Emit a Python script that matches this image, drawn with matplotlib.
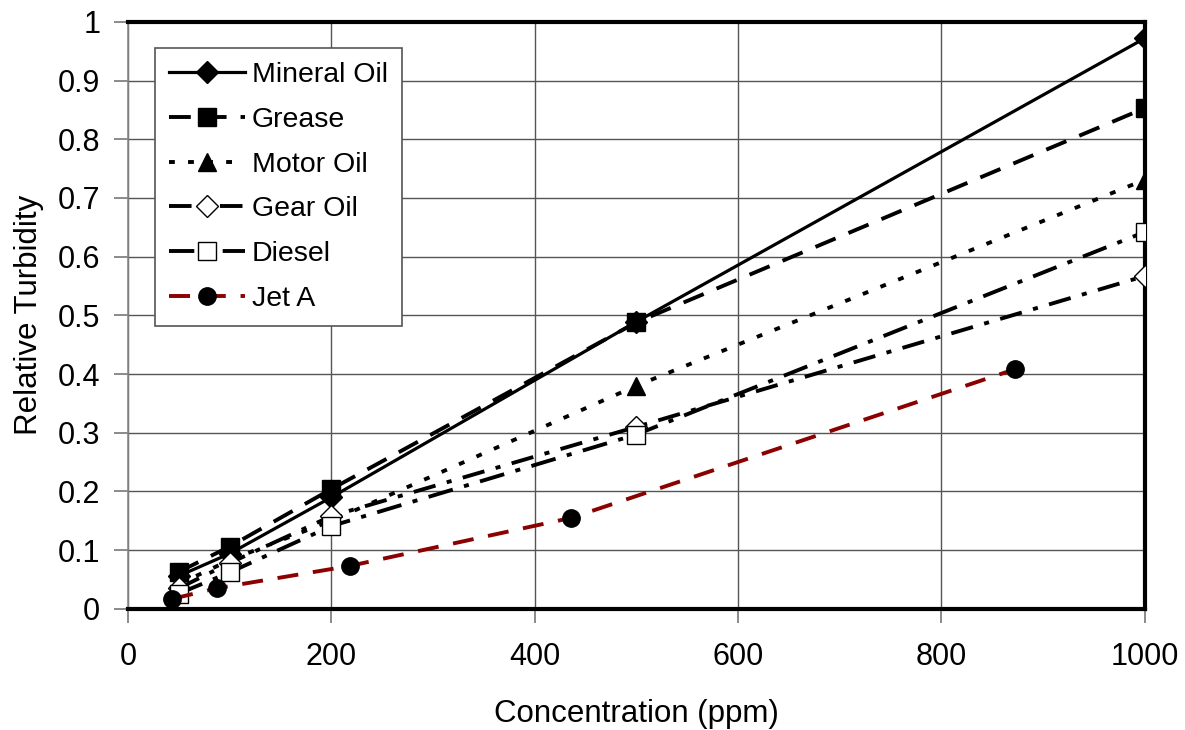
import numpy as np
import matplotlib.pyplot as plt
from matplotlib.ticker import FuncFormatter

plt.rcParams['font.family'] = ['Liberation Sans', 'DejaVu Sans']

# concentrations (ppm)
conc = [50, 100, 200, 500, 1000]
conc_jet = [43.6, 87.2, 218, 436, 872]

# relative turbidity
mineral_oil = [0.056, 0.094, 0.19, 0.489, 0.972]
grease = [0.063, 0.106, 0.204, 0.488, 0.853]
motor_oil = [0.042, 0.083, 0.150, 0.380, 0.731]
gear_oil = [0.035, 0.078, 0.158, 0.310, 0.567]
diesel = [0.026, 0.062, 0.141, 0.297, 0.642]
jet_a = [0.017, 0.035, 0.073, 0.155, 0.408]

fig = plt.figure(figsize=(11.85, 7.3), dpi=100)
ax = fig.add_axes([0.108, 0.166, 0.858, 0.804])

lw = 2.8
ms = 12.5
ax.plot(conc, mineral_oil, color='black', lw=2.3, ls='-', marker='D', ms=ms - 1,
        label='Mineral Oil', zorder=5)
ax.plot(conc, grease, color='black', lw=lw, ls=(0, (5.6, 3.6)), marker='s', ms=ms,
        label='Grease', zorder=5)
ax.plot(conc, motor_oil, color='black', lw=lw, ls=(0, (1.5, 3.4)), marker='^', ms=ms + 1,
        label='Motor Oil', zorder=5)
ax.plot(conc, gear_oil, color='black', lw=lw, ls=(0, (5.8, 3, 1.3, 3)), marker='D',
        ms=ms - 1, mfc='white', mew=1, label='Gear Oil', zorder=5)
ax.plot(conc, diesel, color='black', lw=lw, ls=(0, (6.5, 3, 1.3, 3)), marker='s',
        ms=ms, mfc='white', mew=1, label='Diesel', zorder=5)
ax.plot(conc_jet, jet_a, color='#8b0000', lw=lw, ls=(0, (5.4, 3.8)), marker='o', ms=ms,
        mfc='black', mec='black', label='Jet A', zorder=5)

ax.set_xlim(0, 1000)
ax.set_ylim(0, 1)
ax.set_xticks(np.arange(0, 1001, 200))
ax.set_yticks(np.arange(0, 1.01, 0.1))
ax.yaxis.set_major_formatter(FuncFormatter(lambda v, p: f'{v:g}'))
ax.grid(True, color='#555555', lw=1)
ax.set_axisbelow(True)

ax.tick_params(axis='both', direction='out', length=10, width=1.2, color='#777777',
               labelsize=22, pad=10)
ax.tick_params(axis='x', pad=14)

for side in ['top', 'right', 'bottom']:
    ax.spines[side].set_linewidth(3)
    ax.spines[side].set_color('black')
ax.spines['left'].set_linewidth(1.2)
ax.spines['left'].set_color('#888888')

ax.set_xlabel('Concentration (ppm)', fontsize=22.5, labelpad=19)
ax.set_ylabel('Relative Turbidity', fontsize=22.5, labelpad=10)

leg = ax.legend(loc='upper left', bbox_to_anchor=(0.0265, 0.956), borderaxespad=0,
                fontsize=20.5, handlelength=2.65, labelspacing=0.66, handletextpad=0.25,
                borderpad=0.5, fancybox=False, framealpha=1, edgecolor='#555555')
leg.get_frame().set_linewidth(1.2)
leg.set_zorder(10)

fig.savefig('out.png', dpi=100)
